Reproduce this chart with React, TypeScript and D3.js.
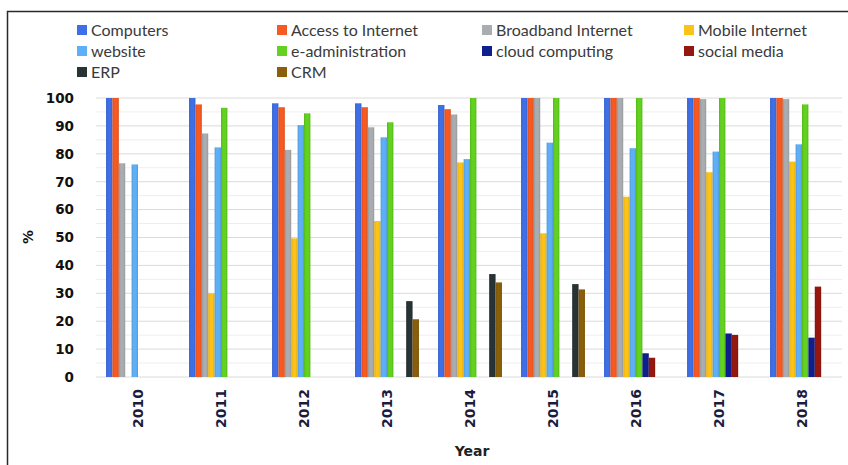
import React from "react";
import * as d3 from "d3";

// Share of enterprises using each technology, by year (%)
const years = ["2010", "2011", "2012", "2013", "2014", "2015", "2016", "2017", "2018"];

const seriesNames = [
  "Computers",
  "Access to Internet",
  "Broadband Internet",
  "Mobile Internet",
  "website",
  "e-administration",
  "cloud computing",
  "social media",
  "ERP",
  "CRM",
];

const computers = [100, 100, 98.1, 98.1, 97.5, 100, 100, 100, 100];
const accessToInternet = [100, 97.7, 96.7, 96.7, 96, 100, 100, 100, 100];
const broadbandInternet = [76.6, 87.3, 81.4, 89.5, 94.1, 100, 100, 99.6, 99.6];
const mobileInternet = [0, 30, 49.7, 55.9, 76.9, 51.5, 64.6, 73.4, 77.2];
const website = [76.2, 82.3, 90.3, 85.9, 78.1, 84, 82, 80.8, 83.4];
const eAdministration = [0, 96.5, 94.5, 91.3, 100, 100, 100, 100, 97.7];
const cloudComputing = [0, 0, 0, 0, 0, 0, 8.5, 15.6, 14.1];
const socialMedia = [0, 0, 0, 0, 0, 0, 6.9, 15.1, 32.4];
const erp = [0, 0, 0, 27.2, 36.9, 33.3, 0, 0, 0];
const crm = [0, 0, 0, 20.7, 33.9, 31.4, 0, 0, 0];

const seriesValues = [
  computers,
  accessToInternet,
  broadbandInternet,
  mobileInternet,
  website,
  eAdministration,
  cloudComputing,
  socialMedia,
  erp,
  crm,
];

const seriesColors = [
  "#3f6fe6",
  "#f65a22",
  "#a9adb1",
  "#fcc216",
  "#5eb0f6",
  "#62d11f",
  "#0e1f8e",
  "#951810",
  "#283336",
  "#8a5f0c",
];

const yTicks = [0, 10, 20, 30, 40, 50, 60, 70, 80, 90, 100];
const yMinorTicks = [5, 15, 25, 35, 45, 55, 65, 75, 85, 95];

const W = 848;
const H = 465;

export default function App() {
  const x = d3
    .scaleBand<string>()
    .domain(years)
    .range([96.5, 843.5])
    .paddingInner(0.23)
    .paddingOuter(0.115);

  const xInner = d3
    .scaleBand<string>()
    .domain(seriesNames)
    .range([0, x.bandwidth()])
    .padding(0);

  const y = d3.scaleLinear().domain([0, 100]).range([377, 98]);

  const legendCols = [77, 277, 482, 684];
  const legendRows = [30, 51, 72];

  return (
    <svg
      width={W}
      height={H}
      viewBox={`0 0 ${W} ${H}`}
      style={{ position: "absolute", left: 0, top: 0, background: "#fff" }}
    >
      <defs>
        {seriesColors.map((c, i) => (
          <linearGradient key={i} id={`g${i}`} x1="0" x2="1" y1="0" y2="0">
            <stop offset="0" stopColor={d3.color(c)!.darker(0.35).formatHex()} />
            <stop offset="0.3" stopColor={c} />
            <stop offset="0.7" stopColor={c} />
            <stop offset="1" stopColor={d3.color(c)!.darker(0.35).formatHex()} />
          </linearGradient>
        ))}
      </defs>

      {/* outer frame */}
      <rect x={7.5} y={11.5} width={W} height={H} fill="#fff" stroke="#2a2a2a" strokeWidth={1.5} />

      {/* gridlines */}
      {yMinorTicks.map((t) => (
        <line key={`m${t}`} x1={96} x2={842} y1={y(t)} y2={y(t)} stroke="#eeeeee" strokeWidth={1} />
      ))}
      {yTicks.map((t) => (
        <line key={`g${t}`} x1={96} x2={842} y1={y(t)} y2={y(t)} stroke="#dadada" strokeWidth={1} />
      ))}

      {/* bars */}
      {years.map((yr, yi) => (
        <g key={yr} transform={`translate(${x(yr)},0)`}>
          {seriesNames.map((s, si) => {
            const v = seriesValues[si][yi];
            if (!v) return null;
            return (
              <rect
                key={s}
                x={xInner(s)}
                y={y(v)}
                width={xInner.bandwidth()}
                height={y(0) - y(v)}
                fill={`url(#g${si})`}
              />
            );
          })}
        </g>
      ))}

      {/* y tick labels */}
      {yTicks.map((t) => (
        <text
          key={`t${t}`}
          x={74}
          y={y(t)}
          dy="0.36em"
          textAnchor="end"
          fontFamily="'DejaVu Sans', sans-serif"
          fontWeight="bold"
          fontSize={13.5}
          fill="#111"
        >
          {t}
        </text>
      ))}

      {/* x tick labels */}
      {years.map((yr) => (
        <text
          key={`x${yr}`}
          transform={`translate(${x(yr)! + x.bandwidth() / 2},389) rotate(-90)`}
          dy="0.36em"
          textAnchor="end"
          fontFamily="'DejaVu Sans', sans-serif"
          fontWeight="bold"
          fontSize={14}
          fill="#1c1c3e"
        >
          {yr}
        </text>
      ))}

      {/* axis titles */}
      <text
        transform="translate(28,237) rotate(-90)"
        dy="0.36em"
        textAnchor="middle"
        fontFamily="'DejaVu Sans', sans-serif"
        fontWeight="bold"
        fontSize={14}
        fill="#111"
      >
        %
      </text>
      <text
        x={472}
        y={451}
        dy="0.36em"
        textAnchor="middle"
        fontFamily="'DejaVu Sans', sans-serif"
        fontWeight="bold"
        fontSize={14}
        fill="#222"
      >
        Year
      </text>

      {/* legend */}
      {seriesNames.map((s, i) => {
        const col = i % 4;
        const row = Math.floor(i / 4);
        const lx = legendCols[col];
        const ly = legendRows[row];
        return (
          <g key={`l${s}`} transform={`translate(${lx},${ly})`}>
            <rect x={0} y={-5} width={10} height={10} fill={seriesColors[i]} />
            <text
              x={14}
              y={0}
              dy="0.35em"
              fontFamily="Lato, 'Open Sans', sans-serif"
              fontSize={16}
              fill="#3a3a3a"
            >
              {s}
            </text>
          </g>
        );
      })}
    </svg>
  );
}
